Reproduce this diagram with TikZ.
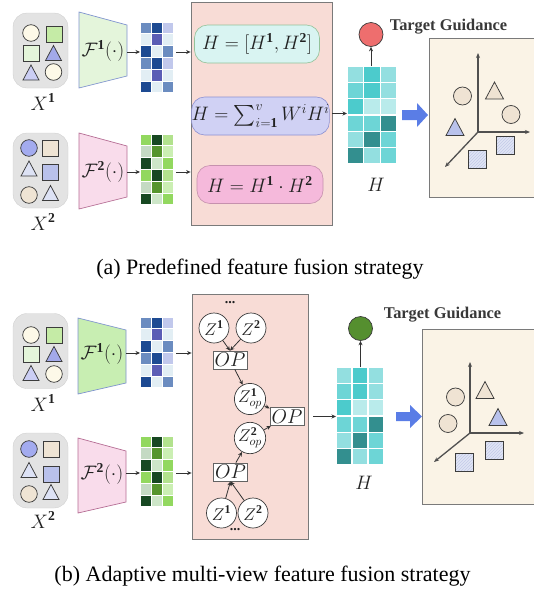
\RequirePackage{fix-cm}
\documentclass[tikz,border=0pt]{standalone}
\usepackage{amsmath}
\usepackage{fontspec}
\setmainfont{Liberation Serif}
\usetikzlibrary{arrows.meta,patterns}
\definecolor{inbg}{HTML}{E3E3E3}
\definecolor{shline}{HTML}{3C3C3C}
\definecolor{cream}{HTML}{FDF9E8}
\definecolor{sqgreen}{HTML}{C5EBA6}
\definecolor{sqlgreen}{HTML}{E4F5DA}
\definecolor{tblue}{HTML}{A3A9EA}
\definecolor{tlblue}{HTML}{CBCEF4}
\definecolor{cblue}{HTML}{A3ABEF}
\definecolor{beige}{HTML}{EFE4D4}
\definecolor{tpale}{HTML}{DDE2F5}
\definecolor{sqblue}{HTML}{B9C1EB}
\definecolor{enconeA}{HTML}{E4F5DB}
\definecolor{enconeB}{HTML}{C8EEB2}
\definecolor{enconeD}{HTML}{7F93CF}
\definecolor{enctwo}{HTML}{F9DCEB}
\definecolor{enctwoD}{HTML}{B56D94}
\definecolor{fusfill}{HTML}{F8DCD6}
\definecolor{fusdraw}{HTML}{7A7A7A}
\definecolor{cyanf}{HTML}{D9F4F2}
\definecolor{cyand}{HTML}{93C29A}
\definecolor{purf}{HTML}{D0D1F4}
\definecolor{purd}{HTML}{8C90D2}
\definecolor{pinkf}{HTML}{F5B9DB}
\definecolor{pinkd}{HTML}{C691AE}
\definecolor{latf}{HTML}{FAF3E6}
\definecolor{latbeige}{HTML}{EFE3D3}
\definecolor{latblue}{HTML}{B9C2EC}
\definecolor{latsq}{HTML}{E0E5F5}
\definecolor{hatch}{HTML}{C3CAE8}
\definecolor{redc}{HTML}{EE6E6E}
\definecolor{greenc}{HTML}{558F2F}
\definecolor{bigarr}{HTML}{5A7DE6}
\definecolor{arrcol}{HTML}{333333}
\definecolor{txt}{HTML}{222222}
\newcommand\shtri[4][8]{\draw[shp,fill=#4] (#2,#3) ++(-#1,0.94*#1) -- ++(#1,-1.88*#1) -- ++(#1,1.88*#1) -- cycle;}
\newcommand\shsq[4][8]{\draw[shp,fill=#4] (#2,#3) ++(-#1,-#1) rectangle ++(2*#1,2*#1);}
\newcommand\shhsq[3]{\draw[shp,fill=latsq] (#1,#2) ++(-9,-9) rectangle ++(18,18);
  \fill[pattern=north east lines,pattern color=hatch] (#1,#2) ++(-8.5,-8.5) rectangle ++(17,17);
  \draw[shp] (#1,#2) ++(-9,-9) rectangle ++(18,18);}
\newcommand\shcir[4][8.3]{\draw[shp,fill=#4] (#2,#3) circle[radius=#1pt];}
% generic cell matrix: name, x0, y0, cell w, cell h, line width, colors
\newcommand\cellmat[7]{%
  \node[inner sep=0pt,minimum width=3*#4*1pt,minimum height=6*#5*1pt,anchor=north west] (#1) at (#2,#3) {};
  \foreach \c [count=\i from 0] in #7 {%
    \pgfmathtruncatemacro\cc{mod(\i,3)}%
    \pgfmathtruncatemacro\rr{\i/3}%
    \definecolor{tmpc}{HTML}{\c}%
    \filldraw[fill=tmpc,draw=white,line width=#6] ({#2+\cc*#4},{#3+\rr*#5}) rectangle ++(#4,#5);
  }}
\newcommand\bluecells{6B8CC0,1D4A92,C1C8EC,E2EEF4,5B5DB5,E2EEF4,1D4A92,E2EEF4,6B8CC0,6B8CC0,1D4A92,C1C8EC,E2EEF4,5B5DB5,E2EEF4,1D4A92,E2EEF4,6B8CC0}
\newcommand\greencells{92D85F,174822,B2E28D,C4DAC3,56952E,CBEFB3,174822,CDE6C8,92D85F,92D85F,174822,B2E28D,C4DAC3,56952E,CBEFB3,174822,CDE6C8,92D85F}
\newcommand\hcells{93DFE0,4CCBCC,93DFE0,6DD5D6,4CCBCC,93DFE0,4CCBCC,B9EBEB,B9EBEB,6DD5D6,6DD5D6,338F8F,93DFE0,338F8F,6DD5D6,338F8F,93DFE0,6DD5D6}
\begin{document}
\begin{tikzpicture}[x=1pt,y=-1pt,
  shp/.style={draw=shline,line width=0.75pt},
  arr/.style={draw=arrcol,line width=0.8pt,-{Stealth[length=4.5pt,width=4pt]}},
  axisline/.style={draw=shline!90,line width=1.3pt,-{Stealth[length=5pt,width=4pt]}},
  inbox/.style={fill=inbg,draw=inbg!90!black,line width=0.3pt,rounded corners=14pt,minimum width=55pt,minimum height=75pt,inner sep=0pt},
  mtext/.style={text=txt,inner sep=0pt,font=\fontsize{19.5}{22}\selectfont},
  fnode/.style={rounded corners=13pt,line width=0.6pt,minimum height=38pt,inner sep=0pt,text=txt,font=\fontsize{19.5}{22}\selectfont},
  fusbox/.style={fill=fusfill,draw=fusdraw,line width=0.8pt,inner sep=0pt},
  latbox/.style={fill=latf,draw=fusdraw,line width=0.8pt,inner sep=0pt,anchor=north west},
  zc/.style={circle,draw=shline,fill=white,line width=0.7pt,minimum size=30pt,inner sep=0pt,text=txt,font=\fontsize{17}{20}\selectfont},
  opb/.style={draw=shline!80,fill=white,line width=0.7pt,minimum width=34pt,minimum height=18pt,inner sep=0pt,text=txt,font=\fontsize{20}{22}\selectfont},
  tgc/.style={circle,draw=shline,line width=0.7pt,minimum size=24pt,inner sep=0pt},
  tgt/.style={text=txt!90,inner sep=0pt,font=\bfseries\fontsize{16.4}{18}\selectfont},
  captext/.style={inner sep=0pt,anchor=base,text=black,font=\fontsize{22}{26}\selectfont}
]
\useasboundingbox (0,0) rectangle (534,590);

%================ (a) =================
% inputs
\node[inbox] (x1a) at (40.5,50.5) {};
\shcir{31}{33}{cream} \shsq{54}{34}{sqgreen} \shsq{31}{53.5}{sqlgreen}
\shtri{53.5}{53}{tblue} \shtri{31}{72.5}{tlblue} \shcir{53.5}{72}{cream}
\node[mtext] (lx1a) at (43,102) {$X^{\mathbf{1}}$};
\node[inbox] (x2a) at (40.5,170.5) {};
\shcir{29}{148}{cblue} \shsq{50.5}{148}{beige} \shtri{29}{168.5}{tpale}
\shsq{50.5}{172.5}{sqblue} \shcir{29}{195}{beige} \shtri{50.5}{193}{tpale}
\node[mtext] (lx2a) at (43,222) {$X^{\mathbf{2}}$};
% encoders
\draw[fill=enconeA,draw=enconeD,line width=0.7pt] (79,12) -- (127,25) -- (127,76) -- (79,88) -- cycle;
\node[mtext] (f1a) at (103,51) {$\mathcal{F}^{\mathbf{1}}(\cdot)$};
\coordinate (e1a) at (127,52);
\draw[fill=enctwo,draw=enctwoD,line width=0.7pt] (79,133) -- (127,146) -- (127,197) -- (79,209) -- cycle;
\node[mtext] (f2a) at (103,172) {$\mathcal{F}^{\mathbf{2}}(\cdot)$};
\coordinate (e2a) at (127,172);
% feature matrices
\cellmat{m1a}{140}{22}{11.33}{11.83}{1pt}{\bluecells}
\cellmat{m2a}{140}{134}{11.33}{11.83}{1pt}{\greencells}
\draw[arr] (e1a) -- (e1a -| m1a.west);
\draw[arr] (e2a) -- (e2a -| m2a.west);
% fusion box
\node[fusbox,minimum width=141pt,minimum height=223pt] (fusa) at (261.5,113.5) {};
\draw[arr] (e1a -| m1a.east) ++(2,0) -- (e1a -| fusa.west);
\draw[arr] (e2a -| m2a.east) ++(2,0) -- (e2a -| fusa.west);
\node[fnode,fill=cyanf,draw=cyand,minimum width=125pt] (h1) at (257,44) {$H=[H^{\mathbf{1}},H^{\mathbf{2}}]$};
\node[fnode,fill=purf,draw=purd,minimum width=137pt] (h2) at (260.5,116) {$H=\sum_{i=\mathbf{1}}^{v}W^iH^i$};
\node[fnode,fill=pinkf,draw=pinkd,minimum width=126pt] (h3) at (260,184.5) {$H=H^{\mathbf{1}}\cdot H^{\mathbf{2}}$};
% fused H
\cellmat{ha}{347}{66}{16.67}{16.33}{1.5pt}{\hcells}
\draw[arr] (fusa.east) -- (fusa.east -| ha.west);
\node[mtext] (lha) at (376,185) {$H$};
\node[tgc,fill=redc] (ta) at (371,34.5) {};
\draw[arr] (ta |- ha.north) -- (ta.south);
\node[tgt] (tga) at (448.5,27) {Target Guidance};
% big arrow
\fill[bigarr] (402,110) -- (417,110) -- (417,103) -- (428,115) -- (417,127) -- (417,120) -- (402,120) -- cycle;
% latent space
\node[latbox,minimum width=115pt,minimum height=159pt] (lata) at (429,38) {};
\coordinate (oa) at (478,132);
\coordinate (oau) at (478,53);
\coordinate (oar) at (530,132);
\coordinate (oad) at (445,167);
\draw[axisline] (oa) -- (oau);
\draw[axisline] (oa) -- (oar);
\draw[axisline] (oa) -- (oad);
\shcir[9]{462.5}{96}{latbeige}
\shtri[9]{494.5}{90.5}{latbeige}
\shcir[9]{511}{114.5}{latbeige}
\shtri[9]{455}{127}{latblue}
\shhsq{505}{145.5}{}
\shhsq{477}{159}{}
\node[captext] (capa) at (260,274) {(a) Predefined feature fusion strategy};

%================ (b) =================
\node[inbox] (x1b) at (40.5,351) {};
\shcir{31}{335}{cream} \shsq{54}{335}{sqgreen} \shsq{31}{354}{sqlgreen}
\shtri{54}{354}{tblue} \shtri{31}{373}{tlblue} \shcir{54}{374}{cream}
\node[mtext] (lx1b) at (43,403) {$X^{\mathbf{1}}$};
\node[inbox] (x2b) at (40.5,470.5) {};
\shcir{29}{449}{cblue} \shsq{51}{449}{beige} \shtri{29}{470}{tpale}
\shsq{51}{474}{sqblue} \shcir{29}{494}{beige} \shtri{51}{492}{tpale}
\node[mtext] (lx2b) at (43,520) {$X^{\mathbf{2}}$};
\draw[fill=enconeB,draw=enconeD,line width=0.7pt] (78,318) -- (126,330) -- (126,383) -- (78,394) -- cycle;
\node[mtext] (f1b) at (102,354) {$\mathcal{F}^{\mathbf{1}}(\cdot)$};
\coordinate (e1b) at (126,353);
\draw[fill=enctwo,draw=enctwoD,line width=0.7pt] (78,438) -- (126,451) -- (126,502) -- (78,513) -- cycle;
\node[mtext] (f2b) at (102,474) {$\mathcal{F}^{\mathbf{2}}(\cdot)$};
\coordinate (e2b) at (126,473);
\cellmat{m1b}{140}{317}{11.33}{11.83}{1pt}{\bluecells}
\cellmat{m2b}{140}{436}{11.33}{11.83}{1pt}{\greencells}
\draw[arr] (e1b) -- (e1b -| m1b.west);
\draw[arr] (e2b) -- (e2b -| m2b.west);
\node[fusbox,minimum width=116pt,minimum height=245pt] (fusb) at (250,416.5) {};
\draw[arr] (e1b -| m1b.east) ++(2,0) -- (e1b -| fusb.west);
\draw[arr] (e2b -| m2b.east) ++(2,0) -- (e2b -| fusb.west);
\node[text=txt,inner sep=0pt,font=\bfseries\fontsize{14}{14}\selectfont] (dt) at (230,303) {...};
\node[zc] (z1t) at (214,328) {$Z^{\mathbf{1}}$};
\node[zc] (z2t) at (251,328) {$Z^{\mathbf{2}}$};
\node[opb] (op1) at (230,360) {$OP$};
\node[zc] (z1op) at (250,399) {$Z^{\mathbf{1}}_{op}$};
\node[opb] (op2) at (287,416.5) {$OP$};
\node[zc] (z2op) at (250,438) {$Z^{\mathbf{2}}_{op}$};
\node[opb] (op3) at (230.5,472) {$OP$};
\node[zc] (z1b) at (221.5,513) {$Z^{\mathbf{1}}$};
\node[zc] (z2b) at (253,513) {$Z^{\mathbf{2}}$};
\node[text=txt,inner sep=0pt,font=\bfseries\fontsize{14}{14}\selectfont] (db) at (235,530) {...};
\draw[arr] (z1t) -- (op1.north);
\draw[arr] (z2t) -- (op1.north);
\draw[arr] (op1) -- (z1op);
\draw[arr] (z1op) -- (op2);
\draw[arr] (z2op) -- (op2);
\draw[arr] (op3) -- (z2op);
\draw[arr] (z1b) -- (op3.south);
\draw[arr] (z2b) -- (op3.south);
\cellmat{hb}{336}{367}{16}{16.33}{1.5pt}{\hcells}
\draw[arr] ([xshift=5pt]fusb.east) -- (fusb.east -| hb.west);
\node[mtext] (lhb) at (364,483) {$H$};
\node[tgc,fill=greenc] (tb) at (360.5,328.5) {};
\draw[arr] (tb |- hb.north) -- (tb.south);
\node[tgt] (tgb) at (442.5,315) {Target Guidance};
\fill[bigarr] (396,412) -- (410,412) -- (410,405) -- (422,416.5) -- (410,428) -- (410,421) -- (396,421) -- cycle;
\node[latbox,minimum width=122pt,minimum height=175pt] (latb) at (422,329) {};
\coordinate (ob) at (470,433);
\coordinate (obu) at (470,362);
\coordinate (obr) at (524,433);
\coordinate (obd) at (434,462);
\draw[axisline] (ob) -- (obu);
\draw[axisline] (ob) -- (obr);
\draw[axisline] (ob) -- (obd);
\shcir[9]{455.5}{397}{latbeige}
\shcir[9]{448}{423.5}{latbeige}
\shtri[9]{485}{390}{latbeige}
\shtri[9]{498}{417}{latblue}
\shhsq{494}{450.5}{}
\shhsq{464}{462.5}{}
\node[captext] (capb) at (262.5,581) {(b) Adaptive multi-view feature fusion strategy};
\end{tikzpicture}
\end{document}
